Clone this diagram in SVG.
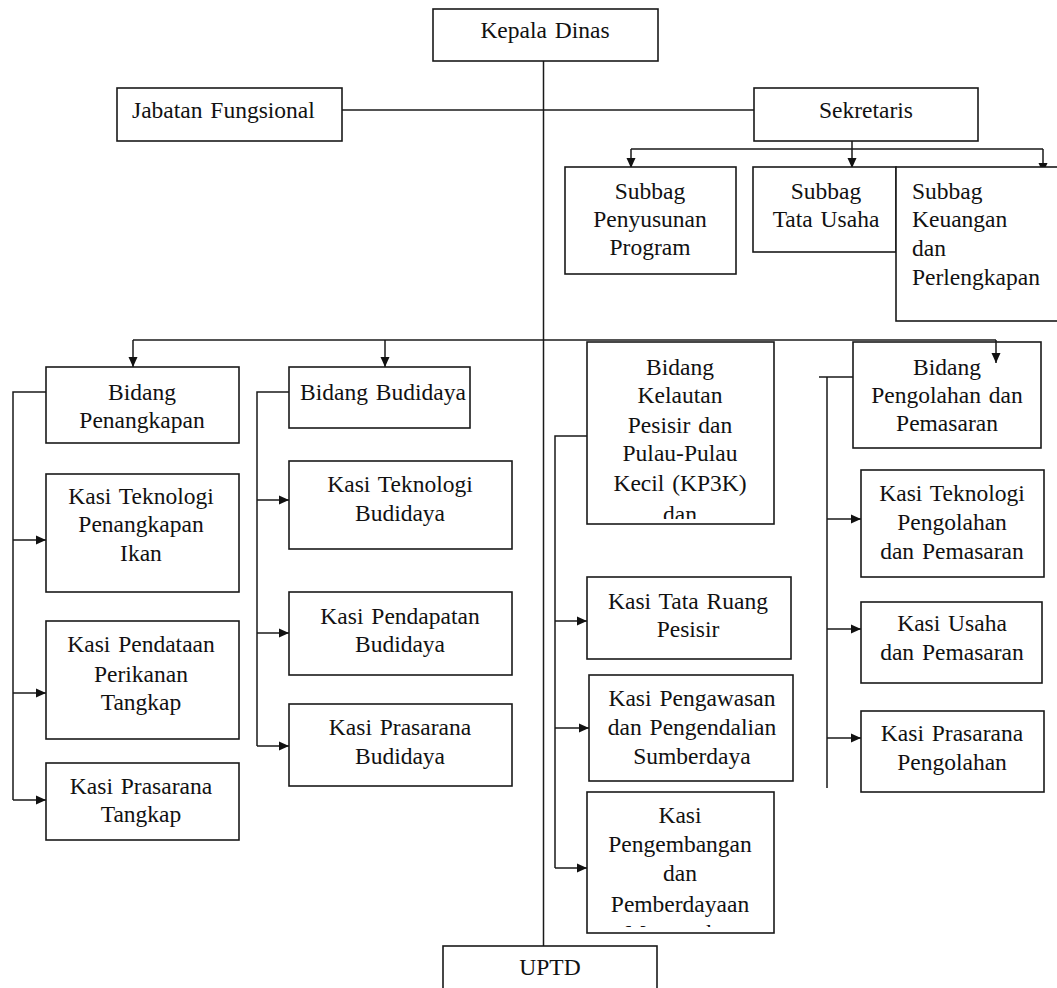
<svg xmlns="http://www.w3.org/2000/svg" width="1057" height="988" viewBox="0 0 1057 988">
<style>
.box{fill:#fff;stroke:#1a1a1a;stroke-width:1.6}
.ln{fill:none;stroke:#1a1a1a;stroke-width:1.5}
text{font-family:"Liberation Serif","Times New Roman",serif;font-size:23.5px;fill:#111;text-anchor:middle;word-spacing:2px}
.l{text-anchor:start}
</style>
<defs>
<marker id="ah" markerUnits="userSpaceOnUse" markerWidth="12" markerHeight="11" refX="10" refY="5" orient="auto">
<path d="M0,0.5 L10,5 L0,9.5 z" fill="#111"/>
</marker>
<clipPath id="c1"><rect x="587" y="342" width="188" height="177"/></clipPath>
<clipPath id="c2"><rect x="587" y="792" width="188" height="135"/></clipPath>
</defs>
<g id="connectors">
<path class="ln" d="M543.5,61 V946"/>
<path class="ln" d="M342,110 H754"/>
<path class="ln" d="M852,141 V149 M631,149 H1043"/>
<path class="ln" marker-end="url(#ah)" d="M631,149 V168"/>
<path class="ln" marker-end="url(#ah)" d="M852,149 V168"/>
<path class="ln" marker-end="url(#ah)" d="M1043,149 V173"/>
<path class="ln" d="M133,340 H996"/>
<path class="ln" marker-end="url(#ah)" d="M133,340 V367"/>
<path class="ln" marker-end="url(#ah)" d="M385,340 V367"/>
<path class="ln" d="M46,392 H13 V800"/>
<path class="ln" marker-end="url(#ah)" d="M13,540 H46"/>
<path class="ln" marker-end="url(#ah)" d="M13,693 H46"/>
<path class="ln" marker-end="url(#ah)" d="M13,800 H46"/>
<path class="ln" d="M289,392 H257 V746"/>
<path class="ln" marker-end="url(#ah)" d="M257,500 H289"/>
<path class="ln" marker-end="url(#ah)" d="M257,633 H289"/>
<path class="ln" marker-end="url(#ah)" d="M257,746 H289"/>
<path class="ln" d="M587,436 H555 V868"/>
<path class="ln" marker-end="url(#ah)" d="M555,621 H587"/>
<path class="ln" marker-end="url(#ah)" d="M555,728 H589"/>
<path class="ln" marker-end="url(#ah)" d="M555,868 H587"/>
<path class="ln" d="M853,377 H819 M827,377 V788"/>
<path class="ln" marker-end="url(#ah)" d="M827,519 H861"/>
<path class="ln" marker-end="url(#ah)" d="M827,629 H861"/>
<path class="ln" marker-end="url(#ah)" d="M827,738 H861"/>
</g>
<g id="kepala-dinas"><rect class="box" x="433" y="9" width="225" height="52"/><text x="545" y="38">Kepala Dinas</text></g>
<g id="jabatan-fungsional"><rect class="box" x="117" y="88" width="225" height="53"/><text class="l" x="132" y="118">Jabatan Fungsional</text></g>
<g id="sekretaris"><rect class="box" x="754" y="88" width="224" height="53"/><text x="866" y="118">Sekretaris</text></g>
<g id="subbag-penyusunan"><rect class="box" x="565" y="167" width="171" height="107"/><text x="650" y="198.5">Subbag</text><text x="650" y="227">Penyusunan</text><text x="650" y="255">Program</text></g>
<g id="subbag-tata-usaha"><rect class="box" x="753" y="167" width="143" height="85"/><text x="826" y="198.5">Subbag</text><text x="826" y="227">Tata Usaha</text></g>
<g id="subbag-keuangan"><rect class="box" x="896" y="167" width="170" height="154"/><text class="l" x="912" y="198.5">Subbag</text><text class="l" x="912" y="227">Keuangan</text><text class="l" x="912" y="255.5">dan</text><text class="l" x="912" y="284.5">Perlengkapan</text></g>
<g id="bidang-penangkapan"><rect class="box" x="46" y="367" width="193" height="76"/><text x="142" y="400">Bidang</text><text x="142" y="427.5">Penangkapan</text></g>
<g id="kasi-teknologi-penangkapan"><rect class="box" x="46" y="474" width="193" height="118"/><text x="141" y="503.5">Kasi Teknologi</text><text x="141" y="532">Penangkapan</text><text x="141" y="561">Ikan</text></g>
<g id="kasi-pendataan"><rect class="box" x="46" y="621" width="193" height="118"/><text x="141" y="652">Kasi Pendataan</text><text x="141" y="681.5">Perikanan</text><text x="141" y="710">Tangkap</text></g>
<g id="kasi-prasarana-tangkap"><rect class="box" x="46" y="763" width="193" height="77"/><text x="141" y="793.5">Kasi Prasarana</text><text x="141" y="821.5">Tangkap</text></g>
<g id="bidang-budidaya"><rect class="box" x="289" y="367" width="181" height="61"/><text x="383" y="400">Bidang Budidaya</text></g>
<g id="kasi-teknologi-budidaya"><rect class="box" x="289" y="461" width="223" height="88"/><text x="400" y="492">Kasi Teknologi</text><text x="400" y="521">Budidaya</text></g>
<g id="kasi-pendapatan-budidaya"><rect class="box" x="289" y="592" width="223" height="83"/><text x="400" y="623.5">Kasi Pendapatan</text><text x="400" y="652">Budidaya</text></g>
<g id="kasi-prasarana-budidaya"><rect class="box" x="289" y="704" width="223" height="82"/><text x="400" y="735">Kasi Prasarana</text><text x="400" y="763.5">Budidaya</text></g>
<g id="bidang-kp3k"><rect class="box" x="587" y="342" width="187" height="182"/><g clip-path="url(#c1)"><text x="680" y="374.5">Bidang</text><text x="680" y="403">Kelautan</text><text x="680" y="432.5">Pesisir dan</text><text x="680" y="461">Pulau-Pulau</text><text x="680" y="490.5">Kecil (KP3K)</text><text x="680" y="522">dan</text></g></g>
<g id="kasi-tata-ruang"><rect class="box" x="587" y="577" width="204" height="82"/><text x="688" y="608.5">Kasi Tata Ruang</text><text x="688" y="636.5">Pesisir</text></g>
<g id="kasi-pengawasan"><rect class="box" x="589" y="675" width="204" height="106"/><text x="692" y="706">Kasi Pengawasan</text><text x="692" y="734.5">dan Pengendalian</text><text x="692" y="763.5">Sumberdaya</text></g>
<g id="kasi-pengembangan"><rect class="box" x="587" y="792" width="187" height="141"/><g clip-path="url(#c2)"><text x="680" y="822.5">Kasi</text><text x="680" y="851.5">Pengembangan</text><text x="680" y="880.5">dan</text><text x="680" y="911.5">Pemberdayaan</text><text x="680" y="941">Masyarakat</text></g></g>
<g id="bidang-pengolahan"><rect class="box" x="853" y="342" width="188" height="106"/><text x="947" y="374.5">Bidang</text><text x="947" y="403">Pengolahan dan</text><text x="947" y="431">Pemasaran</text></g>
<g id="kasi-teknologi-pengolahan"><rect class="box" x="861" y="470" width="183" height="107"/><text x="952" y="501">Kasi Teknologi</text><text x="952" y="530">Pengolahan</text><text x="952" y="559">dan Pemasaran</text></g>
<g id="kasi-usaha"><rect class="box" x="861" y="602" width="181" height="81"/><text x="952" y="631">Kasi Usaha</text><text x="952" y="660">dan Pemasaran</text></g>
<g id="kasi-prasarana-pengolahan"><rect class="box" x="861" y="711" width="183" height="81"/><text x="952" y="741">Kasi Prasarana</text><text x="952" y="769.5">Pengolahan</text></g>
<g id="uptd"><rect class="box" x="443" y="946" width="214" height="50"/><text x="550" y="975">UPTD</text></g>
<path class="ln" marker-end="url(#ah)" d="M996,340 V363"/>
</svg>
